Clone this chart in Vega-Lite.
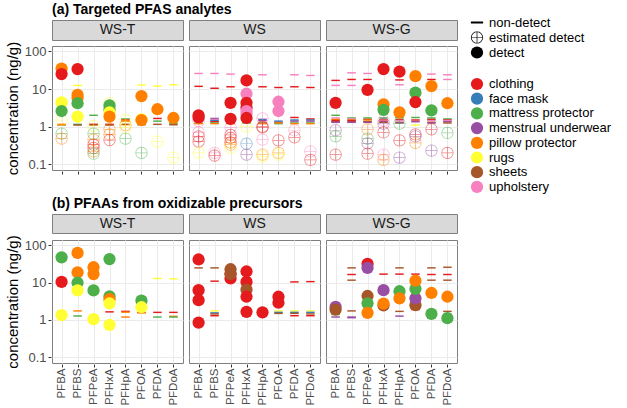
{
"$schema":"https://vega.github.io/schema/vega-lite/v6.json",
"background":"white",
"padding":{"left":5,"top":2,"right":5,"bottom":0},
"config":{
 "font":"Liberation Sans",
 "mark":{"color":"#000000"},
 "view":{"stroke":"#7f7f7f"},
 "axis":{"gridColor":"#ebebeb","domain":false,"tickColor":"#333333","tickSize":3,"labelColor":"#4d4d4d","labelFontSize":13,"titleFontWeight":"normal","titleFontSize":15,"titleColor":"#000000","labelPadding":2,"labelOverlap":false},
 "legend":{"labelFontSize":13,"labelColor":"#000000","symbolSize":150,"rowPadding":0,"labelOffset":5,"title":null,"symbolOpacity":1}
},
"datasets":{
 "strips":[{"p":"WS-T"},{"p":"WS"},{"p":"WS-G"}],
 "pts":[
{"r":"a","p":"WS-T","a":"PFBA","c":"pillow protector","s":"detect","v":35},
{"r":"a","p":"WS-T","a":"PFBA","c":"clothing","s":"detect","v":25},
{"r":"a","p":"WS-T","a":"PFBA","c":"rugs","s":"detect","v":4.4},
{"r":"a","p":"WS-T","a":"PFBA","c":"mattress protector","s":"detect","v":2.6},
{"r":"a","p":"WS-T","a":"PFBA","c":"rugs","s":"estimated detect","v":1.5},
{"r":"a","p":"WS-T","a":"PFBA","c":"sheets","s":"non-detect","v":1.1},
{"r":"a","p":"WS-T","a":"PFBA","c":"pillow protector","s":"non-detect","v":1.15},
{"r":"a","p":"WS-T","a":"PFBA","c":"mattress protector","s":"estimated detect","v":0.65},
{"r":"a","p":"WS-T","a":"PFBA","c":"pillow protector","s":"estimated detect","v":0.48},
{"r":"a","p":"WS-T","a":"PFBS","c":"clothing","s":"detect","v":34},
{"r":"a","p":"WS-T","a":"PFBS","c":"pillow protector","s":"detect","v":7},
{"r":"a","p":"WS-T","a":"PFBS","c":"pillow protector","s":"detect","v":5.8},
{"r":"a","p":"WS-T","a":"PFBS","c":"mattress protector","s":"detect","v":4.2},
{"r":"a","p":"WS-T","a":"PFBS","c":"rugs","s":"detect","v":1.85},
{"r":"a","p":"WS-T","a":"PFBS","c":"rugs","s":"non-detect","v":12.5},
{"r":"a","p":"WS-T","a":"PFBS","c":"clothing","s":"non-detect","v":1.85},
{"r":"a","p":"WS-T","a":"PFBS","c":"mattress protector","s":"non-detect","v":1.15},
{"r":"a","p":"WS-T","a":"PFBS","c":"sheets","s":"non-detect","v":1.1},
{"r":"a","p":"WS-T","a":"PFPeA","c":"mattress protector","s":"non-detect","v":2.0},
{"r":"a","p":"WS-T","a":"PFPeA","c":"clothing","s":"non-detect","v":1.15},
{"r":"a","p":"WS-T","a":"PFPeA","c":"sheets","s":"non-detect","v":1.1},
{"r":"a","p":"WS-T","a":"PFPeA","c":"rugs","s":"estimated detect","v":1.05},
{"r":"a","p":"WS-T","a":"PFPeA","c":"mattress protector","s":"estimated detect","v":0.65},
{"r":"a","p":"WS-T","a":"PFPeA","c":"pillow protector","s":"estimated detect","v":0.45},
{"r":"a","p":"WS-T","a":"PFPeA","c":"clothing","s":"estimated detect","v":0.33},
{"r":"a","p":"WS-T","a":"PFPeA","c":"clothing","s":"estimated detect","v":0.27},
{"r":"a","p":"WS-T","a":"PFPeA","c":"pillow protector","s":"estimated detect","v":0.22},
{"r":"a","p":"WS-T","a":"PFPeA","c":"mattress protector","s":"estimated detect","v":0.19},
{"r":"a","p":"WS-T","a":"PFHxA","c":"rugs","s":"estimated detect","v":4.2},
{"r":"a","p":"WS-T","a":"PFHxA","c":"mattress protector","s":"detect","v":3.7},
{"r":"a","p":"WS-T","a":"PFHxA","c":"mattress protector","s":"detect","v":2.9},
{"r":"a","p":"WS-T","a":"PFHxA","c":"rugs","s":"detect","v":2.4},
{"r":"a","p":"WS-T","a":"PFHxA","c":"pillow protector","s":"detect","v":1.85},
{"r":"a","p":"WS-T","a":"PFHxA","c":"clothing","s":"non-detect","v":1.15},
{"r":"a","p":"WS-T","a":"PFHxA","c":"sheets","s":"non-detect","v":1.1},
{"r":"a","p":"WS-T","a":"PFHxA","c":"pillow protector","s":"estimated detect","v":0.85},
{"r":"a","p":"WS-T","a":"PFHxA","c":"pillow protector","s":"estimated detect","v":0.62},
{"r":"a","p":"WS-T","a":"PFHxA","c":"clothing","s":"estimated detect","v":0.44},
{"r":"a","p":"WS-T","a":"PFHpA","c":"mattress protector","s":"non-detect","v":1.6},
{"r":"a","p":"WS-T","a":"PFHpA","c":"clothing","s":"non-detect","v":1.5},
{"r":"a","p":"WS-T","a":"PFHpA","c":"pillow protector","s":"non-detect","v":1.4},
{"r":"a","p":"WS-T","a":"PFHpA","c":"sheets","s":"non-detect","v":1.15},
{"r":"a","p":"WS-T","a":"PFHpA","c":"rugs","s":"estimated detect","v":1.5},
{"r":"a","p":"WS-T","a":"PFHpA","c":"pillow protector","s":"estimated detect","v":1.1},
{"r":"a","p":"WS-T","a":"PFHpA","c":"rugs","s":"estimated detect","v":0.95},
{"r":"a","p":"WS-T","a":"PFHpA","c":"mattress protector","s":"estimated detect","v":0.48},
{"r":"a","p":"WS-T","a":"PFOA","c":"pillow protector","s":"detect","v":6.5},
{"r":"a","p":"WS-T","a":"PFOA","c":"rugs","s":"detect","v":1.55},
{"r":"a","p":"WS-T","a":"PFOA","c":"pillow protector","s":"detect","v":1.5},
{"r":"a","p":"WS-T","a":"PFOA","c":"rugs","s":"non-detect","v":12.8},
{"r":"a","p":"WS-T","a":"PFOA","c":"mattress protector","s":"non-detect","v":1.7},
{"r":"a","p":"WS-T","a":"PFOA","c":"clothing","s":"non-detect","v":1.35},
{"r":"a","p":"WS-T","a":"PFOA","c":"sheets","s":"non-detect","v":1.12},
{"r":"a","p":"WS-T","a":"PFOA","c":"mattress protector","s":"estimated detect","v":0.2},
{"r":"a","p":"WS-T","a":"PFDA","c":"pillow protector","s":"detect","v":2.9},
{"r":"a","p":"WS-T","a":"PFDA","c":"rugs","s":"non-detect","v":12},
{"r":"a","p":"WS-T","a":"PFDA","c":"clothing","s":"non-detect","v":1.65},
{"r":"a","p":"WS-T","a":"PFDA","c":"mattress protector","s":"non-detect","v":1.4},
{"r":"a","p":"WS-T","a":"PFDA","c":"sheets","s":"non-detect","v":1.15},
{"r":"a","p":"WS-T","a":"PFDA","c":"rugs","s":"estimated detect","v":0.4},
{"r":"a","p":"WS-T","a":"PFDoA","c":"pillow protector","s":"detect","v":1.7},
{"r":"a","p":"WS-T","a":"PFDoA","c":"clothing","s":"non-detect","v":1.55},
{"r":"a","p":"WS-T","a":"PFDoA","c":"rugs","s":"non-detect","v":13},
{"r":"a","p":"WS-T","a":"PFDoA","c":"mattress protector","s":"non-detect","v":1.2},
{"r":"a","p":"WS-T","a":"PFDoA","c":"sheets","s":"non-detect","v":1.12},
{"r":"a","p":"WS-T","a":"PFDoA","c":"rugs","s":"estimated detect","v":0.15},
{"r":"a","p":"WS","a":"PFBA","c":"upholstery","s":"non-detect","v":26},
{"r":"a","p":"WS","a":"PFBA","c":"clothing","s":"non-detect","v":11.8},
{"r":"a","p":"WS","a":"PFBA","c":"clothing","s":"detect","v":2.0},
{"r":"a","p":"WS","a":"PFBA","c":"clothing","s":"detect","v":1.75},
{"r":"a","p":"WS","a":"PFBA","c":"face mask","s":"non-detect","v":1.5},
{"r":"a","p":"WS","a":"PFBA","c":"menstrual underwear","s":"non-detect","v":1.4},
{"r":"a","p":"WS","a":"PFBA","c":"mattress protector","s":"non-detect","v":1.25},
{"r":"a","p":"WS","a":"PFBA","c":"pillow protector","s":"non-detect","v":1.2},
{"r":"a","p":"WS","a":"PFBA","c":"upholstery","s":"estimated detect","v":1.4},
{"r":"a","p":"WS","a":"PFBA","c":"upholstery","s":"estimated detect","v":0.7},
{"r":"a","p":"WS","a":"PFBA","c":"clothing","s":"estimated detect","v":0.55},
{"r":"a","p":"WS","a":"PFBA","c":"clothing","s":"estimated detect","v":0.4},
{"r":"a","p":"WS","a":"PFBA","c":"rugs","s":"estimated detect","v":0.2},
{"r":"a","p":"WS","a":"PFBS","c":"upholstery","s":"non-detect","v":26},
{"r":"a","p":"WS","a":"PFBS","c":"clothing","s":"non-detect","v":10.5},
{"r":"a","p":"WS","a":"PFBS","c":"menstrual underwear","s":"non-detect","v":1.65},
{"r":"a","p":"WS","a":"PFBS","c":"upholstery","s":"non-detect","v":1.55},
{"r":"a","p":"WS","a":"PFBS","c":"face mask","s":"non-detect","v":1.45},
{"r":"a","p":"WS","a":"PFBS","c":"clothing","s":"non-detect","v":1.35},
{"r":"a","p":"WS","a":"PFBS","c":"mattress protector","s":"non-detect","v":1.25},
{"r":"a","p":"WS","a":"PFBS","c":"pillow protector","s":"non-detect","v":1.2},
{"r":"a","p":"WS","a":"PFBS","c":"upholstery","s":"estimated detect","v":0.2},
{"r":"a","p":"WS","a":"PFBS","c":"clothing","s":"estimated detect","v":0.17},
{"r":"a","p":"WS","a":"PFPeA","c":"upholstery","s":"non-detect","v":25},
{"r":"a","p":"WS","a":"PFPeA","c":"clothing","s":"non-detect","v":11.5},
{"r":"a","p":"WS","a":"PFPeA","c":"clothing","s":"detect","v":4.3},
{"r":"a","p":"WS","a":"PFPeA","c":"clothing","s":"detect","v":1.6},
{"r":"a","p":"WS","a":"PFPeA","c":"face mask","s":"non-detect","v":1.45},
{"r":"a","p":"WS","a":"PFPeA","c":"menstrual underwear","s":"non-detect","v":1.55},
{"r":"a","p":"WS","a":"PFPeA","c":"mattress protector","s":"non-detect","v":1.25},
{"r":"a","p":"WS","a":"PFPeA","c":"pillow protector","s":"non-detect","v":1.2},
{"r":"a","p":"WS","a":"PFPeA","c":"upholstery","s":"estimated detect","v":0.95},
{"r":"a","p":"WS","a":"PFPeA","c":"clothing","s":"estimated detect","v":0.6},
{"r":"a","p":"WS","a":"PFPeA","c":"clothing","s":"estimated detect","v":0.5},
{"r":"a","p":"WS","a":"PFPeA","c":"clothing","s":"estimated detect","v":0.38},
{"r":"a","p":"WS","a":"PFPeA","c":"pillow protector","s":"estimated detect","v":0.33},
{"r":"a","p":"WS","a":"PFPeA","c":"rugs","s":"estimated detect","v":0.27},
{"r":"a","p":"WS","a":"PFHxA","c":"clothing","s":"detect","v":17},
{"r":"a","p":"WS","a":"PFHxA","c":"upholstery","s":"detect","v":7.5},
{"r":"a","p":"WS","a":"PFHxA","c":"clothing","s":"detect","v":4.3},
{"r":"a","p":"WS","a":"PFHxA","c":"clothing","s":"detect","v":3.2},
{"r":"a","p":"WS","a":"PFHxA","c":"upholstery","s":"detect","v":2.6},
{"r":"a","p":"WS","a":"PFHxA","c":"upholstery","s":"detect","v":2.2},
{"r":"a","p":"WS","a":"PFHxA","c":"clothing","s":"detect","v":1.7},
{"r":"a","p":"WS","a":"PFHxA","c":"face mask","s":"non-detect","v":1.5},
{"r":"a","p":"WS","a":"PFHxA","c":"menstrual underwear","s":"non-detect","v":1.4},
{"r":"a","p":"WS","a":"PFHxA","c":"mattress protector","s":"non-detect","v":1.25},
{"r":"a","p":"WS","a":"PFHxA","c":"rugs","s":"estimated detect","v":1.0},
{"r":"a","p":"WS","a":"PFHxA","c":"face mask","s":"estimated detect","v":0.35},
{"r":"a","p":"WS","a":"PFHxA","c":"menstrual underwear","s":"estimated detect","v":0.18},
{"r":"a","p":"WS","a":"PFHpA","c":"upholstery","s":"non-detect","v":24},
{"r":"a","p":"WS","a":"PFHpA","c":"clothing","s":"non-detect","v":11.5},
{"r":"a","p":"WS","a":"PFHpA","c":"face mask","s":"non-detect","v":1.55},
{"r":"a","p":"WS","a":"PFHpA","c":"menstrual underwear","s":"non-detect","v":1.45},
{"r":"a","p":"WS","a":"PFHpA","c":"mattress protector","s":"non-detect","v":1.25},
{"r":"a","p":"WS","a":"PFHpA","c":"pillow protector","s":"non-detect","v":1.2},
{"r":"a","p":"WS","a":"PFHpA","c":"upholstery","s":"estimated detect","v":1.65},
{"r":"a","p":"WS","a":"PFHpA","c":"clothing","s":"estimated detect","v":1.0},
{"r":"a","p":"WS","a":"PFHpA","c":"clothing","s":"estimated detect","v":0.95},
{"r":"a","p":"WS","a":"PFHpA","c":"upholstery","s":"estimated detect","v":0.45},
{"r":"a","p":"WS","a":"PFHpA","c":"pillow protector","s":"estimated detect","v":0.18},
{"r":"a","p":"WS","a":"PFHpA","c":"rugs","s":"estimated detect","v":0.16},
{"r":"a","p":"WS","a":"PFOA","c":"clothing","s":"non-detect","v":11},
{"r":"a","p":"WS","a":"PFOA","c":"upholstery","s":"detect","v":4.6},
{"r":"a","p":"WS","a":"PFOA","c":"upholstery","s":"detect","v":2.6},
{"r":"a","p":"WS","a":"PFOA","c":"face mask","s":"non-detect","v":1.4},
{"r":"a","p":"WS","a":"PFOA","c":"menstrual underwear","s":"non-detect","v":1.3},
{"r":"a","p":"WS","a":"PFOA","c":"mattress protector","s":"non-detect","v":1.2},
{"r":"a","p":"WS","a":"PFOA","c":"pillow protector","s":"non-detect","v":1.25},
{"r":"a","p":"WS","a":"PFOA","c":"clothing","s":"estimated detect","v":0.43},
{"r":"a","p":"WS","a":"PFOA","c":"pillow protector","s":"estimated detect","v":0.2},
{"r":"a","p":"WS","a":"PFOA","c":"rugs","s":"estimated detect","v":0.18},
{"r":"a","p":"WS","a":"PFDA","c":"upholstery","s":"non-detect","v":24},
{"r":"a","p":"WS","a":"PFDA","c":"clothing","s":"non-detect","v":11.5},
{"r":"a","p":"WS","a":"PFDA","c":"clothing","s":"non-detect","v":1.75},
{"r":"a","p":"WS","a":"PFDA","c":"face mask","s":"non-detect","v":1.5},
{"r":"a","p":"WS","a":"PFDA","c":"menstrual underwear","s":"non-detect","v":1.4},
{"r":"a","p":"WS","a":"PFDA","c":"mattress protector","s":"non-detect","v":1.25},
{"r":"a","p":"WS","a":"PFDA","c":"pillow protector","s":"non-detect","v":1.2},
{"r":"a","p":"WS","a":"PFDA","c":"upholstery","s":"estimated detect","v":0.8},
{"r":"a","p":"WS","a":"PFDA","c":"clothing","s":"estimated detect","v":0.52},
{"r":"a","p":"WS","a":"PFDoA","c":"upholstery","s":"non-detect","v":23},
{"r":"a","p":"WS","a":"PFDoA","c":"clothing","s":"non-detect","v":11},
{"r":"a","p":"WS","a":"PFDoA","c":"clothing","s":"non-detect","v":1.6},
{"r":"a","p":"WS","a":"PFDoA","c":"face mask","s":"non-detect","v":1.5},
{"r":"a","p":"WS","a":"PFDoA","c":"menstrual underwear","s":"non-detect","v":1.4},
{"r":"a","p":"WS","a":"PFDoA","c":"mattress protector","s":"non-detect","v":1.25},
{"r":"a","p":"WS","a":"PFDoA","c":"pillow protector","s":"non-detect","v":1.2},
{"r":"a","p":"WS","a":"PFDoA","c":"upholstery","s":"estimated detect","v":0.22},
{"r":"a","p":"WS","a":"PFDoA","c":"clothing","s":"estimated detect","v":0.13},
{"r":"a","p":"WS-G","a":"PFBA","c":"clothing","s":"non-detect","v":17},
{"r":"a","p":"WS-G","a":"PFBA","c":"upholstery","s":"non-detect","v":12.5},
{"r":"a","p":"WS-G","a":"PFBA","c":"clothing","s":"detect","v":4.3},
{"r":"a","p":"WS-G","a":"PFBA","c":"mattress protector","s":"non-detect","v":2.0},
{"r":"a","p":"WS-G","a":"PFBA","c":"upholstery","s":"non-detect","v":1.7},
{"r":"a","p":"WS-G","a":"PFBA","c":"pillow protector","s":"non-detect","v":1.55},
{"r":"a","p":"WS-G","a":"PFBA","c":"clothing","s":"non-detect","v":1.45},
{"r":"a","p":"WS-G","a":"PFBA","c":"sheets","s":"non-detect","v":1.35},
{"r":"a","p":"WS-G","a":"PFBA","c":"menstrual underwear","s":"non-detect","v":1.3},
{"r":"a","p":"WS-G","a":"PFBA","c":"menstrual underwear","s":"estimated detect","v":0.8},
{"r":"a","p":"WS-G","a":"PFBA","c":"mattress protector","s":"estimated detect","v":0.55},
{"r":"a","p":"WS-G","a":"PFBA","c":"clothing","s":"estimated detect","v":0.18},
{"r":"a","p":"WS-G","a":"PFBS","c":"upholstery","s":"non-detect","v":27},
{"r":"a","p":"WS-G","a":"PFBS","c":"clothing","s":"non-detect","v":18},
{"r":"a","p":"WS-G","a":"PFBS","c":"upholstery","s":"non-detect","v":12.5},
{"r":"a","p":"WS-G","a":"PFBS","c":"mattress protector","s":"non-detect","v":1.7},
{"r":"a","p":"WS-G","a":"PFBS","c":"upholstery","s":"non-detect","v":1.6},
{"r":"a","p":"WS-G","a":"PFBS","c":"pillow protector","s":"non-detect","v":1.5},
{"r":"a","p":"WS-G","a":"PFBS","c":"clothing","s":"non-detect","v":1.45},
{"r":"a","p":"WS-G","a":"PFBS","c":"sheets","s":"non-detect","v":1.35},
{"r":"a","p":"WS-G","a":"PFBS","c":"menstrual underwear","s":"non-detect","v":1.3},
{"r":"a","p":"WS-G","a":"PFPeA","c":"upholstery","s":"non-detect","v":26},
{"r":"a","p":"WS-G","a":"PFPeA","c":"clothing","s":"non-detect","v":18},
{"r":"a","p":"WS-G","a":"PFPeA","c":"clothing","s":"detect","v":9.5},
{"r":"a","p":"WS-G","a":"PFPeA","c":"mattress protector","s":"non-detect","v":1.7},
{"r":"a","p":"WS-G","a":"PFPeA","c":"clothing","s":"non-detect","v":1.55},
{"r":"a","p":"WS-G","a":"PFPeA","c":"pillow protector","s":"non-detect","v":1.5},
{"r":"a","p":"WS-G","a":"PFPeA","c":"sheets","s":"non-detect","v":1.35},
{"r":"a","p":"WS-G","a":"PFPeA","c":"menstrual underwear","s":"non-detect","v":1.3},
{"r":"a","p":"WS-G","a":"PFPeA","c":"pillow protector","s":"estimated detect","v":0.85},
{"r":"a","p":"WS-G","a":"PFPeA","c":"mattress protector","s":"estimated detect","v":0.48},
{"r":"a","p":"WS-G","a":"PFPeA","c":"menstrual underwear","s":"estimated detect","v":0.36},
{"r":"a","p":"WS-G","a":"PFPeA","c":"clothing","s":"estimated detect","v":0.19},
{"r":"a","p":"WS-G","a":"PFHxA","c":"clothing","s":"detect","v":34},
{"r":"a","p":"WS-G","a":"PFHxA","c":"pillow protector","s":"detect","v":3.9},
{"r":"a","p":"WS-G","a":"PFHxA","c":"mattress protector","s":"detect","v":2.8},
{"r":"a","p":"WS-G","a":"PFHxA","c":"mattress protector","s":"non-detect","v":1.7},
{"r":"a","p":"WS-G","a":"PFHxA","c":"clothing","s":"non-detect","v":1.5},
{"r":"a","p":"WS-G","a":"PFHxA","c":"menstrual underwear","s":"non-detect","v":1.35},
{"r":"a","p":"WS-G","a":"PFHxA","c":"sheets","s":"non-detect","v":1.3},
{"r":"a","p":"WS-G","a":"PFHxA","c":"upholstery","s":"estimated detect","v":1.45},
{"r":"a","p":"WS-G","a":"PFHxA","c":"menstrual underwear","s":"estimated detect","v":1.2},
{"r":"a","p":"WS-G","a":"PFHxA","c":"clothing","s":"estimated detect","v":0.7},
{"r":"a","p":"WS-G","a":"PFHxA","c":"upholstery","s":"estimated detect","v":0.18},
{"r":"a","p":"WS-G","a":"PFHxA","c":"pillow protector","s":"estimated detect","v":0.13},
{"r":"a","p":"WS-G","a":"PFHpA","c":"clothing","s":"detect","v":29},
{"r":"a","p":"WS-G","a":"PFHpA","c":"clothing","s":"non-detect","v":17.5},
{"r":"a","p":"WS-G","a":"PFHpA","c":"upholstery","s":"non-detect","v":13},
{"r":"a","p":"WS-G","a":"PFHpA","c":"pillow protector","s":"detect","v":2.4},
{"r":"a","p":"WS-G","a":"PFHpA","c":"mattress protector","s":"non-detect","v":1.75},
{"r":"a","p":"WS-G","a":"PFHpA","c":"clothing","s":"non-detect","v":1.55},
{"r":"a","p":"WS-G","a":"PFHpA","c":"upholstery","s":"non-detect","v":1.45},
{"r":"a","p":"WS-G","a":"PFHpA","c":"sheets","s":"non-detect","v":1.3},
{"r":"a","p":"WS-G","a":"PFHpA","c":"menstrual underwear","s":"non-detect","v":1.25},
{"r":"a","p":"WS-G","a":"PFHpA","c":"mattress protector","s":"estimated detect","v":1.2},
{"r":"a","p":"WS-G","a":"PFHpA","c":"clothing","s":"estimated detect","v":0.43},
{"r":"a","p":"WS-G","a":"PFHpA","c":"menstrual underwear","s":"estimated detect","v":0.15},
{"r":"a","p":"WS-G","a":"PFOA","c":"pillow protector","s":"detect","v":22},
{"r":"a","p":"WS-G","a":"PFOA","c":"mattress protector","s":"detect","v":8},
{"r":"a","p":"WS-G","a":"PFOA","c":"clothing","s":"detect","v":4.5},
{"r":"a","p":"WS-G","a":"PFOA","c":"mattress protector","s":"non-detect","v":1.75},
{"r":"a","p":"WS-G","a":"PFOA","c":"clothing","s":"non-detect","v":1.5},
{"r":"a","p":"WS-G","a":"PFOA","c":"menstrual underwear","s":"non-detect","v":1.35},
{"r":"a","p":"WS-G","a":"PFOA","c":"rugs","s":"non-detect","v":1.1},
{"r":"a","p":"WS-G","a":"PFOA","c":"clothing","s":"estimated detect","v":0.62},
{"r":"a","p":"WS-G","a":"PFOA","c":"menstrual underwear","s":"estimated detect","v":0.55},
{"r":"a","p":"WS-G","a":"PFOA","c":"pillow protector","s":"estimated detect","v":0.37},
{"r":"a","p":"WS-G","a":"PFDA","c":"upholstery","s":"non-detect","v":25},
{"r":"a","p":"WS-G","a":"PFDA","c":"clothing","s":"non-detect","v":18},
{"r":"a","p":"WS-G","a":"PFDA","c":"pillow protector","s":"detect","v":12},
{"r":"a","p":"WS-G","a":"PFDA","c":"mattress protector","s":"detect","v":2.7},
{"r":"a","p":"WS-G","a":"PFDA","c":"mattress protector","s":"non-detect","v":1.7},
{"r":"a","p":"WS-G","a":"PFDA","c":"clothing","s":"non-detect","v":1.55},
{"r":"a","p":"WS-G","a":"PFDA","c":"upholstery","s":"non-detect","v":1.45},
{"r":"a","p":"WS-G","a":"PFDA","c":"sheets","s":"non-detect","v":1.3},
{"r":"a","p":"WS-G","a":"PFDA","c":"menstrual underwear","s":"non-detect","v":1.25},
{"r":"a","p":"WS-G","a":"PFDA","c":"clothing","s":"estimated detect","v":0.85},
{"r":"a","p":"WS-G","a":"PFDA","c":"menstrual underwear","s":"estimated detect","v":0.23},
{"r":"a","p":"WS-G","a":"PFDoA","c":"upholstery","s":"non-detect","v":24},
{"r":"a","p":"WS-G","a":"PFDoA","c":"upholstery","s":"non-detect","v":18},
{"r":"a","p":"WS-G","a":"PFDoA","c":"pillow protector","s":"detect","v":4.2},
{"r":"a","p":"WS-G","a":"PFDoA","c":"mattress protector","s":"non-detect","v":1.6},
{"r":"a","p":"WS-G","a":"PFDoA","c":"clothing","s":"non-detect","v":1.5},
{"r":"a","p":"WS-G","a":"PFDoA","c":"upholstery","s":"non-detect","v":1.45},
{"r":"a","p":"WS-G","a":"PFDoA","c":"menstrual underwear","s":"non-detect","v":1.35},
{"r":"a","p":"WS-G","a":"PFDoA","c":"sheets","s":"non-detect","v":1.25},
{"r":"a","p":"WS-G","a":"PFDoA","c":"mattress protector","s":"estimated detect","v":0.68},
{"r":"a","p":"WS-G","a":"PFDoA","c":"clothing","s":"estimated detect","v":0.2},
{"r":"b","p":"WS-T","a":"PFBA","c":"mattress protector","s":"detect","v":48},
{"r":"b","p":"WS-T","a":"PFBA","c":"clothing","s":"detect","v":10.5},
{"r":"b","p":"WS-T","a":"PFBA","c":"rugs","s":"detect","v":1.35},
{"r":"b","p":"WS-T","a":"PFBA","c":"mattress protector","s":"non-detect","v":1.2},
{"r":"b","p":"WS-T","a":"PFBS","c":"pillow protector","s":"detect","v":63},
{"r":"b","p":"WS-T","a":"PFBS","c":"pillow protector","s":"detect","v":19},
{"r":"b","p":"WS-T","a":"PFBS","c":"mattress protector","s":"detect","v":10},
{"r":"b","p":"WS-T","a":"PFBS","c":"rugs","s":"detect","v":6.2},
{"r":"b","p":"WS-T","a":"PFBS","c":"pillow protector","s":"non-detect","v":1.75},
{"r":"b","p":"WS-T","a":"PFBS","c":"mattress protector","s":"non-detect","v":1.28},
{"r":"b","p":"WS-T","a":"PFPeA","c":"pillow protector","s":"detect","v":26},
{"r":"b","p":"WS-T","a":"PFPeA","c":"pillow protector","s":"detect","v":17},
{"r":"b","p":"WS-T","a":"PFPeA","c":"mattress protector","s":"detect","v":6.2},
{"r":"b","p":"WS-T","a":"PFPeA","c":"rugs","s":"detect","v":1.05},
{"r":"b","p":"WS-T","a":"PFHxA","c":"mattress protector","s":"detect","v":43},
{"r":"b","p":"WS-T","a":"PFHxA","c":"mattress protector","s":"detect","v":4.3},
{"r":"b","p":"WS-T","a":"PFHxA","c":"pillow protector","s":"detect","v":3.6},
{"r":"b","p":"WS-T","a":"PFHxA","c":"rugs","s":"detect","v":2.8},
{"r":"b","p":"WS-T","a":"PFHxA","c":"rugs","s":"detect","v":0.74},
{"r":"b","p":"WS-T","a":"PFHxA","c":"clothing","s":"non-detect","v":1.65},
{"r":"b","p":"WS-T","a":"PFHpA","c":"clothing","s":"non-detect","v":1.7},
{"r":"b","p":"WS-T","a":"PFHpA","c":"pillow protector","s":"non-detect","v":1.62},
{"r":"b","p":"WS-T","a":"PFHpA","c":"pillow protector","s":"non-detect","v":1.2},
{"r":"b","p":"WS-T","a":"PFOA","c":"mattress protector","s":"detect","v":3.3},
{"r":"b","p":"WS-T","a":"PFOA","c":"rugs","s":"detect","v":2.2},
{"r":"b","p":"WS-T","a":"PFOA","c":"clothing","s":"non-detect","v":1.6},
{"r":"b","p":"WS-T","a":"PFOA","c":"pillow protector","s":"non-detect","v":1.55},
{"r":"b","p":"WS-T","a":"PFDA","c":"rugs","s":"non-detect","v":13},
{"r":"b","p":"WS-T","a":"PFDA","c":"clothing","s":"non-detect","v":1.6},
{"r":"b","p":"WS-T","a":"PFDA","c":"mattress protector","s":"non-detect","v":1.2},
{"r":"b","p":"WS-T","a":"PFDoA","c":"rugs","s":"non-detect","v":12.7},
{"r":"b","p":"WS-T","a":"PFDoA","c":"clothing","s":"non-detect","v":1.6},
{"r":"b","p":"WS-T","a":"PFDoA","c":"pillow protector","s":"non-detect","v":1.25},
{"r":"b","p":"WS-T","a":"PFDoA","c":"mattress protector","s":"non-detect","v":1.2},
{"r":"b","p":"WS","a":"PFBA","c":"clothing","s":"detect","v":42},
{"r":"b","p":"WS","a":"PFBA","c":"sheets","s":"non-detect","v":25},
{"r":"b","p":"WS","a":"PFBA","c":"clothing","s":"detect","v":6.3},
{"r":"b","p":"WS","a":"PFBA","c":"clothing","s":"detect","v":3.4},
{"r":"b","p":"WS","a":"PFBA","c":"clothing","s":"detect","v":0.85},
{"r":"b","p":"WS","a":"PFBS","c":"sheets","s":"non-detect","v":25},
{"r":"b","p":"WS","a":"PFBS","c":"clothing","s":"non-detect","v":11},
{"r":"b","p":"WS","a":"PFBS","c":"rugs","s":"non-detect","v":1.75},
{"r":"b","p":"WS","a":"PFBS","c":"face mask","s":"non-detect","v":1.55},
{"r":"b","p":"WS","a":"PFBS","c":"sheets","s":"non-detect","v":1.45},
{"r":"b","p":"WS","a":"PFBS","c":"clothing","s":"non-detect","v":1.3},
{"r":"b","p":"WS","a":"PFPeA","c":"clothing","s":"detect","v":17},
{"r":"b","p":"WS","a":"PFPeA","c":"clothing","s":"detect","v":13},
{"r":"b","p":"WS","a":"PFPeA","c":"sheets","s":"detect","v":23},
{"r":"b","p":"WS","a":"PFPeA","c":"sheets","s":"detect","v":17},
{"r":"b","p":"WS","a":"PFHxA","c":"clothing","s":"detect","v":20},
{"r":"b","p":"WS","a":"PFHxA","c":"clothing","s":"detect","v":10.5},
{"r":"b","p":"WS","a":"PFHxA","c":"sheets","s":"detect","v":6.5},
{"r":"b","p":"WS","a":"PFHxA","c":"clothing","s":"detect","v":4.2},
{"r":"b","p":"WS","a":"PFHxA","c":"rugs","s":"non-detect","v":1.85},
{"r":"b","p":"WS","a":"PFHxA","c":"face mask","s":"non-detect","v":1.7},
{"r":"b","p":"WS","a":"PFHxA","c":"clothing","s":"detect","v":1.65},
{"r":"b","p":"WS","a":"PFHpA","c":"face mask","s":"non-detect","v":1.65},
{"r":"b","p":"WS","a":"PFHpA","c":"sheets","s":"non-detect","v":1.55},
{"r":"b","p":"WS","a":"PFHpA","c":"clothing","s":"detect","v":1.6},
{"r":"b","p":"WS","a":"PFOA","c":"clothing","s":"detect","v":4.2},
{"r":"b","p":"WS","a":"PFOA","c":"clothing","s":"detect","v":2.9},
{"r":"b","p":"WS","a":"PFOA","c":"rugs","s":"non-detect","v":1.75},
{"r":"b","p":"WS","a":"PFOA","c":"face mask","s":"non-detect","v":1.6},
{"r":"b","p":"WS","a":"PFOA","c":"sheets","s":"non-detect","v":1.5},
{"r":"b","p":"WS","a":"PFDA","c":"clothing","s":"non-detect","v":10.5},
{"r":"b","p":"WS","a":"PFDA","c":"rugs","s":"non-detect","v":1.75},
{"r":"b","p":"WS","a":"PFDA","c":"face mask","s":"non-detect","v":1.6},
{"r":"b","p":"WS","a":"PFDA","c":"sheets","s":"non-detect","v":1.5},
{"r":"b","p":"WS","a":"PFDA","c":"clothing","s":"non-detect","v":1.3},
{"r":"b","p":"WS","a":"PFDoA","c":"clothing","s":"non-detect","v":10.7},
{"r":"b","p":"WS","a":"PFDoA","c":"rugs","s":"non-detect","v":1.75},
{"r":"b","p":"WS","a":"PFDoA","c":"face mask","s":"non-detect","v":1.6},
{"r":"b","p":"WS","a":"PFDoA","c":"sheets","s":"non-detect","v":1.45},
{"r":"b","p":"WS","a":"PFDoA","c":"clothing","s":"non-detect","v":1.3},
{"r":"b","p":"WS-G","a":"PFBA","c":"menstrual underwear","s":"detect","v":2.25},
{"r":"b","p":"WS-G","a":"PFBA","c":"sheets","s":"detect","v":1.9},
{"r":"b","p":"WS-G","a":"PFBA","c":"mattress protector","s":"non-detect","v":1.4},
{"r":"b","p":"WS-G","a":"PFBA","c":"menstrual underwear","s":"non-detect","v":1.2},
{"r":"b","p":"WS-G","a":"PFBS","c":"sheets","s":"non-detect","v":25},
{"r":"b","p":"WS-G","a":"PFBS","c":"clothing","s":"non-detect","v":16.6},
{"r":"b","p":"WS-G","a":"PFBS","c":"sheets","s":"non-detect","v":11.7},
{"r":"b","p":"WS-G","a":"PFBS","c":"sheets","s":"non-detect","v":1.75},
{"r":"b","p":"WS-G","a":"PFBS","c":"menstrual underwear","s":"non-detect","v":1.2},
{"r":"b","p":"WS-G","a":"PFBS","c":"menstrual underwear","s":"non-detect","v":1.15},
{"r":"b","p":"WS-G","a":"PFPeA","c":"clothing","s":"detect","v":32},
{"r":"b","p":"WS-G","a":"PFPeA","c":"menstrual underwear","s":"detect","v":25},
{"r":"b","p":"WS-G","a":"PFPeA","c":"sheets","s":"detect","v":4.4},
{"r":"b","p":"WS-G","a":"PFPeA","c":"mattress protector","s":"detect","v":2.8},
{"r":"b","p":"WS-G","a":"PFPeA","c":"pillow protector","s":"detect","v":1.55},
{"r":"b","p":"WS-G","a":"PFHxA","c":"clothing","s":"non-detect","v":17},
{"r":"b","p":"WS-G","a":"PFHxA","c":"menstrual underwear","s":"detect","v":6.3},
{"r":"b","p":"WS-G","a":"PFHxA","c":"sheets","s":"detect","v":2.45},
{"r":"b","p":"WS-G","a":"PFHxA","c":"pillow protector","s":"detect","v":2.75},
{"r":"b","p":"WS-G","a":"PFHpA","c":"sheets","s":"non-detect","v":25},
{"r":"b","p":"WS-G","a":"PFHpA","c":"clothing","s":"non-detect","v":17},
{"r":"b","p":"WS-G","a":"PFHpA","c":"mattress protector","s":"detect","v":5.9},
{"r":"b","p":"WS-G","a":"PFHpA","c":"pillow protector","s":"detect","v":3.8},
{"r":"b","p":"WS-G","a":"PFHpA","c":"sheets","s":"non-detect","v":1.7},
{"r":"b","p":"WS-G","a":"PFHpA","c":"menstrual underwear","s":"non-detect","v":1.27},
{"r":"b","p":"WS-G","a":"PFOA","c":"clothing","s":"non-detect","v":17},
{"r":"b","p":"WS-G","a":"PFOA","c":"clothing","s":"non-detect","v":1.9},
{"r":"b","p":"WS-G","a":"PFOA","c":"sheets","s":"detect","v":2.5},
{"r":"b","p":"WS-G","a":"PFOA","c":"menstrual underwear","s":"detect","v":3.8},
{"r":"b","p":"WS-G","a":"PFOA","c":"mattress protector","s":"detect","v":6.8},
{"r":"b","p":"WS-G","a":"PFOA","c":"pillow protector","s":"detect","v":11.3},
{"r":"b","p":"WS-G","a":"PFDA","c":"sheets","s":"non-detect","v":25},
{"r":"b","p":"WS-G","a":"PFDA","c":"clothing","s":"non-detect","v":16.6},
{"r":"b","p":"WS-G","a":"PFDA","c":"sheets","s":"non-detect","v":11.7},
{"r":"b","p":"WS-G","a":"PFDA","c":"pillow protector","s":"detect","v":5.3},
{"r":"b","p":"WS-G","a":"PFDA","c":"sheets","s":"non-detect","v":1.7},
{"r":"b","p":"WS-G","a":"PFDA","c":"menstrual underwear","s":"non-detect","v":1.28},
{"r":"b","p":"WS-G","a":"PFDA","c":"mattress protector","s":"detect","v":1.45},
{"r":"b","p":"WS-G","a":"PFDoA","c":"sheets","s":"non-detect","v":26},
{"r":"b","p":"WS-G","a":"PFDoA","c":"clothing","s":"non-detect","v":16.6},
{"r":"b","p":"WS-G","a":"PFDoA","c":"sheets","s":"non-detect","v":11.7},
{"r":"b","p":"WS-G","a":"PFDoA","c":"pillow protector","s":"detect","v":4.2},
{"r":"b","p":"WS-G","a":"PFDoA","c":"sheets","s":"non-detect","v":1.7},
{"r":"b","p":"WS-G","a":"PFDoA","c":"menstrual underwear","s":"non-detect","v":1.25},
{"r":"b","p":"WS-G","a":"PFDoA","c":"mattress protector","s":"detect","v":1.12}
 ]
},
"spacing":21,
"vconcat":[
 {
  "title":{"text":"(a) Targeted PFAS analytes","anchor":"start","fontSize":14,"fontWeight":"bold","frame":"group","offset":3,"color":"#000000"},
  "spacing":0,
  "vconcat":[
   {"data":{"name":"strips"},"spacing":4,
    "facet":{"column":{"field":"p","type":"nominal","sort":["WS-T","WS","WS-G"],"header":{"title":null,"labels":false}}},
    "spec":{"width":131,"height":20,"view":{"fill":"#d9d9d9","stroke":"#7f7f7f"},
     "layer":[
      {"mark":{"type":"text","fontSize":14,"color":"#1a1a1a","baseline":"middle"},"encoding":{"text":{"field":"p","type":"nominal"}}},
      {"mark":{"type":"point","opacity":0},"encoding":{"y":{"datum":1,"type":"quantitative","scale":{"type":"log","domain":[0.07,140],"nice":false},"axis":{"values":[3],"labelExpr":"'100'","title":" ","labelColor":"transparent","titleColor":"transparent","tickColor":"transparent","grid":false}}}}
     ]}},
   {"data":{"name":"pts"},"transform":[{"filter":"datum.r==='a'"}],"spacing":4,
    "facet":{"column":{"field":"p","type":"nominal","sort":["WS-T","WS","WS-G"],"header":{"title":null,"labels":false}}},
    "spec":{"width":131,"height":124,
     "encoding":{
      "x":{"field":"a","type":"nominal","sort":["PFBA","PFBS","PFPeA","PFHxA","PFHpA","PFOA","PFDA","PFDoA"],"scale":{"type":"point","padding":0.6},"axis":{"title":null,"labels":false,"grid":true,"ticks":true}},
      "y":{"field":"v","type":"quantitative","scale":{"type":"log","domain":[0.07,140],"nice":false},"axis":{"values":[0.1,1,10,100],"format":"~g","title":"concentration (ng/g)","grid":true}},
      "color":{"field":"c","type":"nominal","scale":{"domain":["clothing","face mask","mattress protector","menstrual underwear","pillow protector","rugs","sheets","upholstery"],"range":["#E41A1C","#377EB8","#4DAF4A","#984EA3","#FF7F00","#FFFF33","#A65628","#F781BF"]},
        "legend":{"orient":"none","legendX":418,"legendY":57,"symbolType":"circle","symbolSize":150,"clipHeight":14,"rowPadding":0.7}},
      "shape":{"field":"s","type":"nominal","scale":{"domain":["non-detect","estimated detect","detect"],"range":["M-1,-0.17L1,-0.17L1,0.17L-1,0.17Z","M1,0L0.924,0.383L0.707,0.707L0.383,0.924L0,1L-0.383,0.924L-0.707,0.707L-0.924,0.383L-1,0L-0.924,-0.383L-0.707,-0.707L-0.383,-0.924L0,-1L0.383,-0.924L0.707,-0.707L0.924,-0.383ZM0.88,0L0.813,-0.337L0.622,-0.622L0.337,-0.813L0,-0.88L-0.337,-0.813L-0.622,-0.622L-0.813,-0.337L-0.88,0L-0.813,0.337L-0.622,0.622L-0.337,0.813L0,0.88L0.337,0.813L0.622,0.622L0.813,0.337ZM-0.89,-0.06L0.89,-0.06L0.89,0.06L-0.89,0.06ZM-0.06,-0.89L0.06,-0.89L0.06,0.89L-0.06,0.89Z","circle"]},
        "legend":{"orient":"none","legendX":418,"legendY":-5,"symbolFillColor":"#000000","symbolStrokeColor":"transparent","symbolSize":150,"clipHeight":15,"rowPadding":0}}
     },
     "layer":[
      {"transform":[{"filter":"datum.s==='non-detect'"}],"mark":{"type":"point","filled":true,"size":72,"opacity":1}},
      {"transform":[{"filter":"datum.s==='estimated detect'"}],"mark":{"type":"point","filled":true,"size":150,"opacity":0.55}},
      {"transform":[{"filter":"datum.s==='detect'"}],"mark":{"type":"point","filled":true,"size":150,"opacity":1}}
     ]}}
  ]
 },
 {
  "title":{"text":"(b) PFAAs from oxidizable precursors","anchor":"start","fontSize":14,"fontWeight":"bold","frame":"group","offset":3,"color":"#000000"},
  "spacing":0,
  "vconcat":[
   {"data":{"name":"strips"},"spacing":4,
    "facet":{"column":{"field":"p","type":"nominal","sort":["WS-T","WS","WS-G"],"header":{"title":null,"labels":false}}},
    "spec":{"width":131,"height":19,"view":{"fill":"#d9d9d9","stroke":"#7f7f7f"},
     "layer":[
      {"mark":{"type":"text","fontSize":14,"color":"#1a1a1a","baseline":"middle"},"encoding":{"text":{"field":"p","type":"nominal"}}},
      {"mark":{"type":"point","opacity":0},"encoding":{"y":{"datum":1,"type":"quantitative","scale":{"type":"log","domain":[0.07,140],"nice":false},"axis":{"values":[3],"labelExpr":"'100'","title":" ","labelColor":"transparent","titleColor":"transparent","tickColor":"transparent","grid":false}}}}
     ]}},
   {"data":{"name":"pts"},"transform":[{"filter":"datum.r==='b'"}],"spacing":4,
    "facet":{"column":{"field":"p","type":"nominal","sort":["WS-T","WS","WS-G"],"header":{"title":null,"labels":false}}},
    "spec":{"width":131,"height":123,
     "encoding":{
      "x":{"field":"a","type":"nominal","sort":["PFBA","PFBS","PFPeA","PFHxA","PFHpA","PFOA","PFDA","PFDoA"],"scale":{"type":"point","padding":0.6},"axis":{"title":null,"labels":true,"labelFontSize":11.5,"labelPadding":1,"labelAngle":270,"labelAlign":"right","labelBaseline":"middle","grid":true,"ticks":true}},
      "y":{"field":"v","type":"quantitative","scale":{"type":"log","domain":[0.07,140],"nice":false},"axis":{"values":[0.1,1,10,100],"format":"~g","title":"concentration (ng/g)","grid":true}},
      "color":{"field":"c","type":"nominal","scale":{"domain":["clothing","face mask","mattress protector","menstrual underwear","pillow protector","rugs","sheets","upholstery"],"range":["#E41A1C","#377EB8","#4DAF4A","#984EA3","#FF7F00","#FFFF33","#A65628","#F781BF"]},
        "legend":{"orient":"none","legendX":418,"legendY":57,"symbolType":"circle","symbolSize":150,"clipHeight":14,"rowPadding":0.7}},
      "shape":{"field":"s","type":"nominal","scale":{"domain":["non-detect","estimated detect","detect"],"range":["M-1,-0.17L1,-0.17L1,0.17L-1,0.17Z","M1,0L0.924,0.383L0.707,0.707L0.383,0.924L0,1L-0.383,0.924L-0.707,0.707L-0.924,0.383L-1,0L-0.924,-0.383L-0.707,-0.707L-0.383,-0.924L0,-1L0.383,-0.924L0.707,-0.707L0.924,-0.383ZM0.88,0L0.813,-0.337L0.622,-0.622L0.337,-0.813L0,-0.88L-0.337,-0.813L-0.622,-0.622L-0.813,-0.337L-0.88,0L-0.813,0.337L-0.622,0.622L-0.337,0.813L0,0.88L0.337,0.813L0.622,0.622L0.813,0.337ZM-0.89,-0.06L0.89,-0.06L0.89,0.06L-0.89,0.06ZM-0.06,-0.89L0.06,-0.89L0.06,0.89L-0.06,0.89Z","circle"]},
        "legend":{"orient":"none","legendX":418,"legendY":-5,"symbolFillColor":"#000000","symbolStrokeColor":"transparent","symbolSize":150,"clipHeight":15,"rowPadding":0}}
     },
     "layer":[
      {"transform":[{"filter":"datum.s==='non-detect'"}],"mark":{"type":"point","filled":true,"size":72,"opacity":1}},
      {"transform":[{"filter":"datum.s==='estimated detect'"}],"mark":{"type":"point","filled":true,"size":150,"opacity":0.55}},
      {"transform":[{"filter":"datum.s==='detect'"}],"mark":{"type":"point","filled":true,"size":150,"opacity":1}}
     ]}}
  ]
 }
]
}
